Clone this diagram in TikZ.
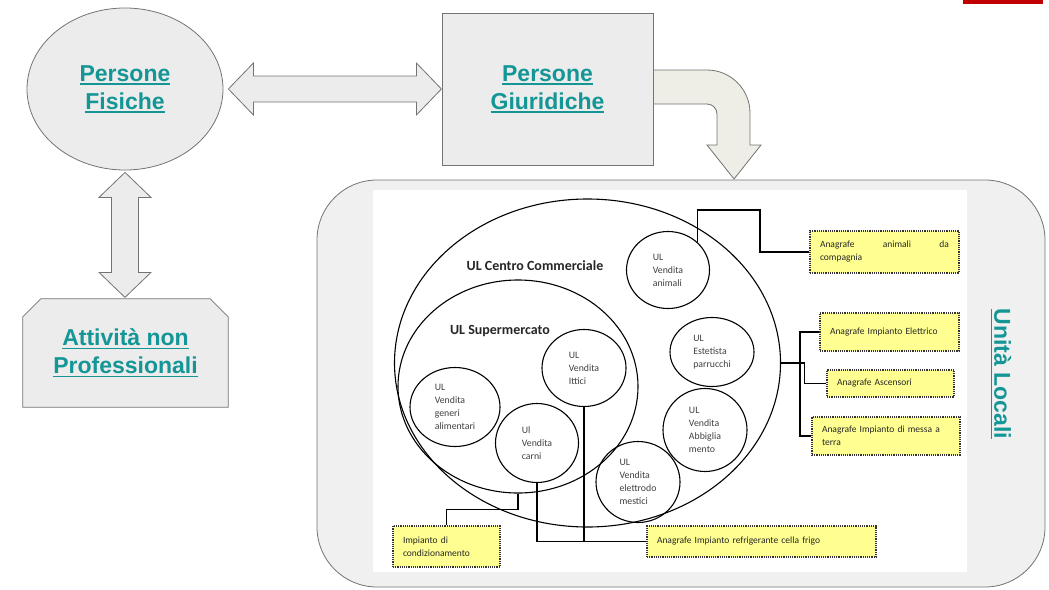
\documentclass[tikz,border=0pt]{standalone}
\usepackage{fontspec}
\setmainfont{Carlito}
\newfontfamily\headfont{Liberation Sans}
\newsavebox{\ulnbox}
\newcommand{\uln}[1]{\sbox{\ulnbox}{#1}\rlap{\usebox{\ulnbox}}\raisebox{-3.5pt}{\rule{\wd\ulnbox}{1.6pt}}}
\usetikzlibrary{shapes.geometric,calc}
\definecolor{linkteal}{RGB}{20,150,150}
\definecolor{shapegray}{RGB}{236,236,236}
\definecolor{edgegray}{RGB}{115,115,115}
\definecolor{arrowgray}{RGB}{238,238,230}
\definecolor{noteyellow}{RGB}{255,255,145}
\definecolor{slidered}{RGB}{192,0,0}
\tikzset{
  shp/.style={draw=edgegray, fill=shapegray, line width=0.8pt},
  link/.style={font=\headfont\bfseries\fontsize{23}{28}\selectfont, text=linkteal, align=center},
  unit/.style={draw, ellipse, line width=1.1pt, font=\fontsize{9.8}{13}\selectfont, text=black!75, align=left, inner sep=0pt},
  note/.style={draw=black!80, densely dotted, line width=1.2pt, fill=noteyellow, font=\fontsize{9.5}{13}\selectfont, text=black!85, align=left, inner xsep=10pt, inner ysep=0pt},
  wire/.style={line width=1.1pt},
  title/.style={font=\bfseries\fontsize{14}{16}\selectfont, text=black!85}
}
\begin{document}
\begin{tikzpicture}[x=1pt,y=-1pt]
	\useasboundingbox (0,0) rectangle (1049,589);
	\fill[slidered] (963,0) rectangle (1043,4);

	%left part
	\node[shp, ellipse, minimum width=196pt, minimum height=162pt, link] (fisiche) at (125,89) {\uln{Persone}\\\uln{Fisiche}};
	\node[shp, minimum width=211pt, minimum height=152pt, link] (giur) at (547.5,89) {\uln{Persone}\\\uln{Giuridiche}};
	\node[minimum width=205pt, minimum height=108pt] (att) at (125.5,353) {};
	\filldraw[shp] ([yshift=-18pt]att.north west) -- ([xshift=18pt]att.north west) -- ([xshift=-18pt]att.north east) -- ([yshift=-18pt]att.north east) -- (att.south east) -- (att.south west) -- cycle;
	\node[link] (atttxt) at (att) {\uln{Attività non}\\\uln{Professionali}};

	%block arrows
	\filldraw[shp] ([xshift=5pt]fisiche.east) -- ++(25,-26) -- ++(0,13) -- ++(163,0) -- ++(0,-13) -- ++(25,26) -- ++(-25,26) -- ++(0,-13) -- ++(-163,0) -- ++(0,13) -- cycle; %fisiche <-> giuridiche
	\filldraw[shp] ([yshift=-2pt]fisiche.south) -- ++(26,25) -- ++(-12.5,0) -- ++(0,75) -- ++(12.5,0) -- ++(-26,25) -- ++(-26,-25) -- ++(12.5,0) -- ++(0,-75) -- ++(-12.5,0) -- cycle; %fisiche <-> attivita

	%unita locali
	\node[shp, fill=gray!12, rounded corners=60pt, minimum width=728pt, minimum height=407pt] (ulbox) at (681,383.5) {};
	\fill[white] (373,190) rectangle (967,572);
	\node[link, rotate=-90] (ultxt) at (1001,374) {\uln{Unità Locali}};
	\filldraw[shp, fill=arrowgray] (giur.east |- 0,70) -- (707,70) .. controls (730.7,70) and (750,89.3) .. (750,113) -- (750,145) -- (761,145) -- (734,179) -- (707,145) -- (717,145) -- (717,114) .. controls (717,108.5) and (712.5,104) .. (707,104) -- (giur.east |- 0,104) -- cycle; %curved arrow

	%ellipses
	\node[draw, ellipse, line width=1.1pt, minimum width=386pt, minimum height=328pt] (cc) at (587.5,363) {};
	\node[draw, ellipse, line width=1.1pt, minimum width=240pt, minimum height=213pt] (super) at (518,386.5) {};
	\node[title] (cctxt) at (535,266) {UL Centro Commerciale};
	\node[title] (supertxt) at (500,331) {UL Supermercato};

	%UL circles
	\node[unit, minimum width=83pt, minimum height=77pt] (animali) at (668,270) {UL\\Vendita\\animali};
	\node[unit, minimum width=84pt, minimum height=69pt] (estetista) at (712,352) {UL\\Estetista\\parrucchi};
	\node[unit, minimum width=84pt, minimum height=83pt] (abbigl) at (705,430) {UL\\Vendita\\Abbiglia\\mento};
	\node[unit, minimum width=84pt, minimum height=81pt] (elettro) at (638,482) {UL\\Vendita\\elettrodo\\mestici};
	\node[unit, minimum width=84pt, minimum height=77pt] (ittici) at (584,368) {UL\\Vendita\\Ittici};
	\node[unit, minimum width=90pt, minimum height=79pt] (generi) at (455,407) {UL\\Vendita\\generi\\alimentari};
	\node[unit, minimum width=83pt, minimum height=79pt] (carni) at (537,443) {Ul\\Vendita\\carni};

	%registers
	\node[note, text width=129pt, minimum height=42pt] (anim) at (884.5,252) {Anagrafe\hfill animali\hfill da\\compagnia};
	\node[note, text width=119pt, minimum height=38pt] (elet) at (889.5,332) {Anagrafe Impianto Elettrico};
	\node[note, text width=107pt, minimum height=27pt] (asc) at (890.5,383.5) {Anagrafe Ascensori};
	\node[note, text width=128pt, minimum height=38pt] (terra) at (886,436) {Anagrafe Impianto di messa a\\terra};
	\node[note, text width=87pt, minimum height=41pt] (cond) at (446.5,546.5) {Impianto di\\condizionamento};
	\node[note, text width=209pt, minimum height=31pt] (frigo) at (761.5,541.5) {Anagrafe Impianto refrigerante cella frigo};

	%wires
	\coordinate (k1) at (760,210);
	\coordinate (k2) at (800,363);
	\draw[wire] (animali.north east) |- (k1) |- (anim.west);
	\draw[wire] (cc.east) -- ++(23,0) |- (asc.west);
	\draw[wire] (elet.west) -| (k2) |- (terra.west);
	\draw[wire] (super.south) -- ++(0,16) -| (cond.north);
	\draw[wire] (carni.south) |- (frigo.west);
	\draw[wire] (ittici.south) |- (frigo.west);
\end{tikzpicture}
\end{document}
